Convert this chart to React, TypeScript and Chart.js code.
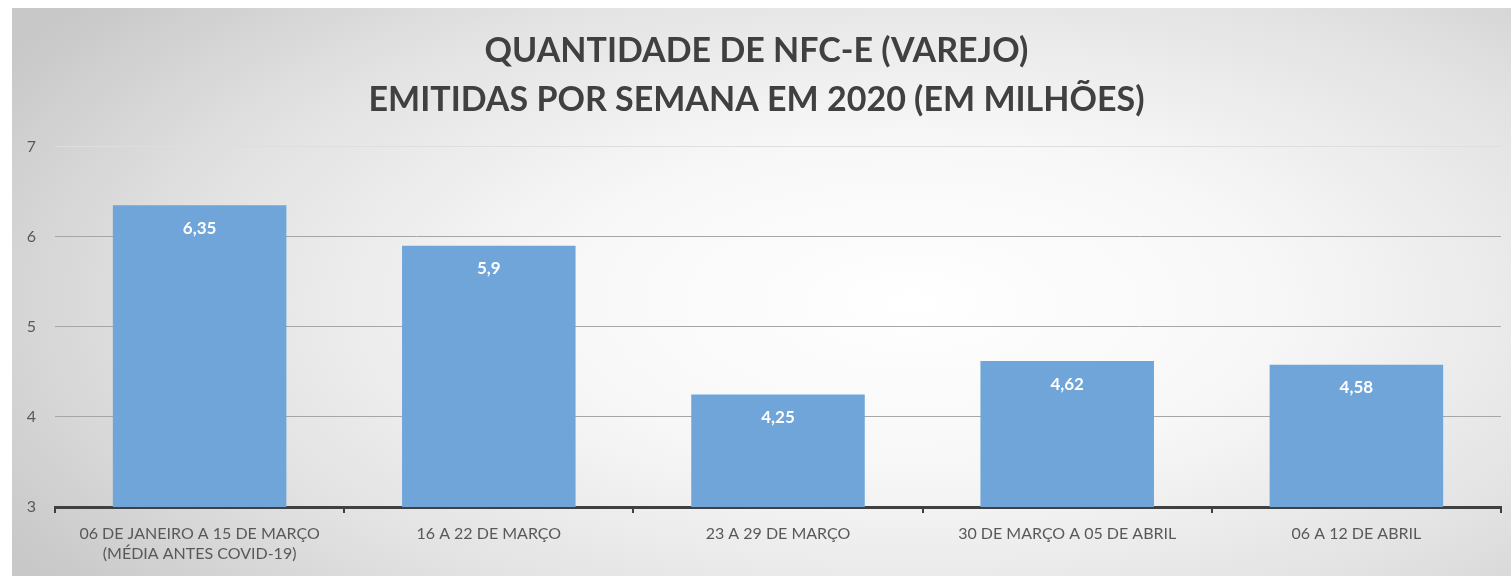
import React, { useEffect, useRef } from "react";
import { Chart, registerables } from "chart.js";

Chart.register(...registerables);

const categories: string[][] = [
  ["06 DE JANEIRO A 15 DE MARÇO", "(MÉDIA ANTES COVID-19)"],
  ["16 A 22 DE MARÇO"],
  ["23 A 29 DE MARÇO"],
  ["30 DE MARÇO A 05 DE ABRIL"],
  ["06 A 12 DE ABRIL"],
];
const values: number[] = [6.35, 5.9, 4.25, 4.62, 4.58];
const titleLines: string[] = [
  "QUANTIDADE DE NFC-E (VAREJO)",
  "EMITIDAS POR SEMANA EM 2020 (EM MILHÕES)",
];
const yMin = 3;
const yMax = 7;

const FONT = "Lato, 'Open Sans', sans-serif";

const valueLabels = {
  id: "valueLabels",
  afterDatasetsDraw(chart: any) {
    const ctx = chart.ctx;
    const meta = chart.getDatasetMeta(0);
    ctx.save();
    ctx.fillStyle = "#ffffff";
    ctx.font = `bold 17px ${FONT}`;
    ctx.textAlign = "center";
    ctx.textBaseline = "middle";
    meta.data.forEach((bar: any, i: number) => {
      const v = values[i];
      const txt = String(v).replace(".", ",");
      ctx.fillText(txt, bar.x, bar.y + 23);
    });
    ctx.restore();
  },
};

export default function App() {
  const ref = useRef<HTMLCanvasElement | null>(null);
  useEffect(() => {
    document.body.style.margin = "0";
    const chart = new Chart(ref.current as HTMLCanvasElement, {
      type: "bar",
      data: {
        labels: categories,
        datasets: [
          {
            data: values,
            backgroundColor: "#6fa5d9",
            borderWidth: 0,
            barPercentage: 0.6,
            categoryPercentage: 1.0,
          },
        ],
      },
      options: {
        animation: false,
        responsive: true,
        maintainAspectRatio: false,
        layout: { padding: { left: 0, right: 10, top: 0, bottom: 0 } },
        plugins: {
          legend: { display: false },
          tooltip: { enabled: false },
          title: {
            display: true,
            text: titleLines,
            color: "#404040",
            font: { family: FONT, size: 34, weight: "bold", lineHeight: 1.45 },
            padding: { top: 18, bottom: 22 },
          },
        },
        scales: {
          x: {
            grid: {
              offset: true,
              drawOnChartArea: false,
              drawTicks: true,
              tickLength: 6,
              color: "#404040",
              lineWidth: 2,
            },
            border: { display: true, color: "#404040", width: 3 },
            ticks: {
              color: "#595959",
              font: { family: FONT, size: 16, lineHeight: 1.3 },
              padding: 10,
              maxRotation: 0,
              autoSkip: false,
            },
            afterFit(scale: any) {
              scale.height = 69;
            },
          },
          y: {
            min: yMin,
            max: yMax,
            border: { display: false },
            grid: {
              drawTicks: false,
              color: (c: any) =>
                c.tick && c.tick.value === 7 ? "#dedede" : "#a6a6a6",
              lineWidth: 1,
            },
            ticks: {
              stepSize: 1,
              color: "#595959",
              font: { family: FONT, size: 16 },
              padding: 19,
            },
            afterFit(scale: any) {
              scale.width = 43;
            },
          },
        },
      },
      plugins: [valueLabels],
    });
    return () => chart.destroy();
  }, []);

  return (
    <div
      style={{
        position: "absolute",
        left: 12,
        top: 8,
        width: 1499,
        height: 568,
        background:
          "radial-gradient(ellipse 70% 85% at 60% 52%, #ffffff 0%, #f7f7f7 35%, #e2e2e2 70%, #c8c8c8 100%)",
      }}
    >
      <canvas ref={ref} />
    </div>
  );
}
